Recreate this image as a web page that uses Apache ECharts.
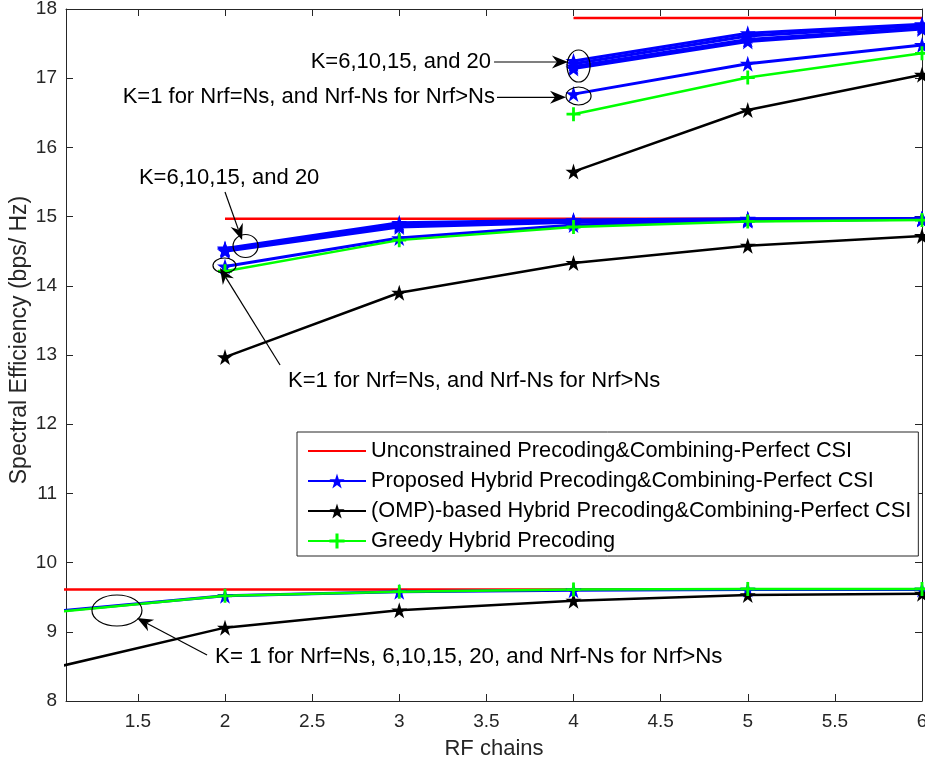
<!DOCTYPE html>
<html>
<head>
<meta charset="utf-8">
<script src="https://cdn.jsdelivr.net/npm/echarts@6/dist/echarts.min.js"></script>
<style>
html,body{margin:0;padding:0;background:#fff;overflow:hidden;}
#c{width:925px;height:763px;}
</style>
</head>
<body>
<div id="c"></div>
<script>
// ---------- data ----------
const xTicks = [1.5, 2, 2.5, 3, 3.5, 4, 4.5, 5, 5.5, 6];
const yTicks = [8, 9, 10, 11, 12, 13, 14, 15, 16, 17, 18];

// RF chain values per group (Ns = 1, 2, 4)
const rfA = [1, 2, 3, 4, 5, 6];
const rfB = [2, 3, 4, 5, 6];
const rfC = [4, 5, 6];

// Group A (Ns = 1)
const unconA  = [9.61, 9.61, 9.61, 9.61, 9.61, 9.61];
const propA   = [9.29, 9.52, 9.58, 9.60, 9.61, 9.61];
const ompA    = [8.47, 9.06, 9.31, 9.45, 9.53, 9.55];
const greedyA = [9.28, 9.52, 9.58, 9.61, 9.62, 9.62];

// Group B (Ns = 2)
const unconB   = [14.97, 14.97, 14.97, 14.97, 14.97];
const propK1B  = [14.28, 14.69, 14.88, 14.94, 14.96];
const propK6B  = [14.54, 14.91, 14.95, 14.97, 14.97];
const propK10B = [14.53, 14.89, 14.94, 14.96, 14.97];
const propK15B = [14.52, 14.87, 14.93, 14.96, 14.97];
const propK20B = [14.50, 14.85, 14.92, 14.95, 14.96];
const ompB     = [12.97, 13.90, 14.33, 14.58, 14.72];
const greedyB  = [14.21, 14.66, 14.85, 14.93, 14.95];

// Group C (Ns = 4)
const unconC   = [17.87, 17.87, 17.87];
const propK1C  = [16.77, 17.21, 17.48];
const propK6C  = [17.25, 17.65, 17.78];
const propK10C = [17.21, 17.61, 17.76];
const propK15C = [17.17, 17.56, 17.73];
const propK20C = [17.14, 17.53, 17.71];
const ompC     = [15.65, 16.54, 17.05];
const greedyC  = [16.48, 17.01, 17.36];

const names = [
  'Unconstrained Precoding&Combining-Perfect CSI',
  'Proposed Hybrid Precoding&Combining-Perfect CSI',
  '(OMP)-based Hybrid Precoding&Combining-Perfect CSI',
  'Greedy Hybrid Precoding'
];

// annotation texts
const annoTexts = [
  'K=6,10,15, and 20',
  'K=1 for Nrf=Ns, and Nrf-Ns for Nrf>Ns',
  'K=6,10,15, and 20',
  'K=1 for Nrf=Ns, and Nrf-Ns for Nrf>Ns',
  'K= 1 for Nrf=Ns, 6,10,15, 20, and Nrf-Ns for Nrf>Ns'
];

// ---------- chart ----------
const STAR = 'path://M50,0 L61.23,34.55 L97.55,34.55 L68.16,55.9 L79.39,90.45 L50,69.1 L20.61,90.45 L31.84,55.9 L2.45,34.55 L38.77,34.55 Z';
const PLUS = 'path://M8,0H12V8H20V12H12V20H8V12H0V8H8Z';
const pair = (xs, ys) => xs.map((x, i) => [x, ys[i]]);

const styles = [
  {color: '#ff0000', width: 2.5, symbol: 'none', size: 0},
  {color: '#0000ff', width: 3, symbol: STAR, size: 16},
  {color: '#000000', width: 2.5, symbol: STAR, size: 16},
  {color: '#00ff00', width: 2.5, symbol: PLUS, size: 14}
];

function mk(k, xs, ys) {
  const s = styles[k];
  return {
    type: 'line', name: names[k], data: pair(xs, ys),
    clip: true,
    symbol: s.symbol, symbolSize: s.size, showSymbol: s.symbol !== 'none',
    itemStyle: {color: s.color},
    lineStyle: {color: s.color, width: s.width},
    emphasis: {disabled: true},
    animation: false
  };
}

const series = [
  mk(0, rfA, unconA), mk(0, rfB, unconB), mk(0, rfC, unconC),
  mk(1, rfA, propA),
  mk(1, rfB, propK1B), mk(1, rfB, propK6B), mk(1, rfB, propK10B), mk(1, rfB, propK15B), mk(1, rfB, propK20B),
  mk(1, rfC, propK1C), mk(1, rfC, propK6C), mk(1, rfC, propK10C), mk(1, rfC, propK15C), mk(1, rfC, propK20C),
  mk(2, rfA, ompA), mk(2, rfB, ompB), mk(2, rfC, ompC),
  mk(3, rfA, greedyA), mk(3, rfB, greedyB), mk(3, rfC, greedyC)
];

const FONT = "'Liberation Sans', Arial, sans-serif";
const NARROW = "'Liberation Sans Narrow', 'Liberation Sans', Arial, sans-serif";
const AX = '#262626';
const XMIN = 1.0875, XMAX = 6;

const chart = echarts.init(document.getElementById('c'), null, {renderer: 'canvas', width: 925, height: 763});
chart.setOption({
  animation: false,
  backgroundColor: '#ffffff',
  grid: {left: 66, right: 3, top: 9, bottom: 62, containLabel: false, outerBoundsMode: 'none'},
  xAxis: [{
    type: 'value', min: XMIN, max: XMAX, position: 'bottom',
    name: 'RF chains', nameLocation: 'middle', nameGap: 37, nameMoveOverlap: false,
    nameTextStyle: {fontFamily: NARROW, fontSize: 22, color: '#262626'},
    axisLine: {show: true, onZero: false, lineStyle: {color: AX, width: 1}},
    axisTick: {show: true, inside: true, length: 7, customValues: xTicks, lineStyle: {color: AX}},
    axisLabel: {customValues: xTicks, fontFamily: NARROW, fontSize: 19, color: '#262626', margin: 11, hideOverlap: false},
    splitLine: {show: false}
  }, {
    type: 'value', min: XMIN, max: XMAX, position: 'top',
    axisLine: {show: true, onZero: false, lineStyle: {color: AX, width: 1}},
    axisTick: {show: true, inside: true, length: 7, customValues: xTicks, lineStyle: {color: AX}},
    axisLabel: {show: false},
    splitLine: {show: false}
  }],
  yAxis: [{
    type: 'value', min: 8, max: 18, interval: 1, position: 'left',
    name: 'Spectral Efficiency (bps/ Hz)', nameLocation: 'middle', nameGap: 35, nameMoveOverlap: false,
    nameTextStyle: {fontFamily: NARROW, fontSize: 23, color: '#262626', padding: [0, 0, 0, 30]},
    axisLine: {show: true, onZero: false, lineStyle: {color: AX, width: 1}},
    axisTick: {show: true, inside: true, length: 7, lineStyle: {color: AX}},
    axisLabel: {fontFamily: NARROW, fontSize: 19, color: '#262626', margin: 9},
    splitLine: {show: false}
  }, {
    type: 'value', min: 8, max: 18, interval: 1, position: 'right',
    axisLine: {show: true, onZero: false, lineStyle: {color: AX, width: 1}},
    axisTick: {show: true, inside: true, length: 7, lineStyle: {color: AX}},
    axisLabel: {show: false},
    splitLine: {show: false}
  }],
  legend: {
    show: true, orient: 'vertical', left: 297, top: 432,
    data: [
      {name: names[0], itemStyle: {opacity: 0}},
      names[1], names[2], names[3]
    ],
    itemWidth: 58, itemHeight: 19, itemGap: 8,
    padding: [8, 7, 4, 10],
    backgroundColor: '#ffffff', borderColor: AX, borderWidth: 1,
    textStyle: {fontFamily: FONT, fontSize: 21.75, color: '#000', lineHeight: 22},
    selectedMode: false
  },
  series: series
});

// ---------- annotations (anchored in data coordinates) ----------
const P = (x, y) => chart.convertToPixel({gridIndex: 0}, [x, y]);

function arrow(tail, tip) {
  const a = P(tail[0], tail[1]), b = P(tip[0], tip[1]);
  const dx = b[0] - a[0], dy = b[1] - a[1];
  const L = Math.hypot(dx, dy), ux = dx / L, uy = dy / L;
  const nx = -uy, ny = ux;
  const hl = 16, hw = 6.5, ind = 5;
  const bx = b[0] - ux * hl, by = b[1] - uy * hl;
  return [
    {type: 'line', shape: {x1: a[0], y1: a[1], x2: b[0] - ux * (hl - ind), y2: b[1] - uy * (hl - ind)},
     style: {stroke: '#000', lineWidth: 1.2}, z: 100},
    {type: 'polygon', shape: {points: [
      [b[0], b[1]], [bx + nx * hw, by + ny * hw], [b[0] - ux * (hl - ind), b[1] - uy * (hl - ind)], [bx - nx * hw, by - ny * hw]
    ]}, style: {fill: '#000'}, z: 100}
  ];
}
function ell(c, rx, ry) {
  const p = P(c[0], c[1]);
  return {type: 'ellipse', shape: {cx: p[0], cy: p[1], rx: rx, ry: ry},
          style: {fill: null, stroke: '#000', lineWidth: 1.2}, z: 100};
}
function txt(anchor, s, align, size) {
  const p = P(anchor[0], anchor[1]);
  return {type: 'text', x: p[0], y: p[1], z: 100,
          style: {text: s, fill: '#000', font: (size || 22) + 'px ' + FONT, align: align, verticalAlign: 'middle'}};
}

const g = [];
g.push(txt([3.527, 17.234], annoTexts[0], 'right'));
g.push(...arrow([3.544, 17.234], [3.968, 17.234]));
g.push(ell([4.029, 17.176], 11.5, 16));

g.push(txt([3.549, 16.728], annoTexts[1], 'right'));
g.push(...arrow([3.561, 16.724], [3.957, 16.724]));
g.push(ell([4.029, 16.743], 12.5, 9));

g.push(txt([1.506, 15.558], annoTexts[2], 'left'));
g.push(...arrow([2.0, 15.355], [2.098, 14.662]));
g.push(ell([2.118, 14.575], 12.5, 11.5));

g.push(ell([1.997, 14.293], 11.5, 7.5));
g.push(...arrow([2.316, 12.855], [1.971, 14.257]));
g.push(txt([2.362, 12.624], annoTexts[3], 'left'));

g.push(ell([1.380, 9.308], 25, 15.5));
g.push(...arrow([1.897, 8.665], [1.495, 9.199]));
g.push(txt([1.943, 8.636], annoTexts[4], 'left', 22.3));

chart.setOption({graphic: g});
</script>
</body>
</html>
